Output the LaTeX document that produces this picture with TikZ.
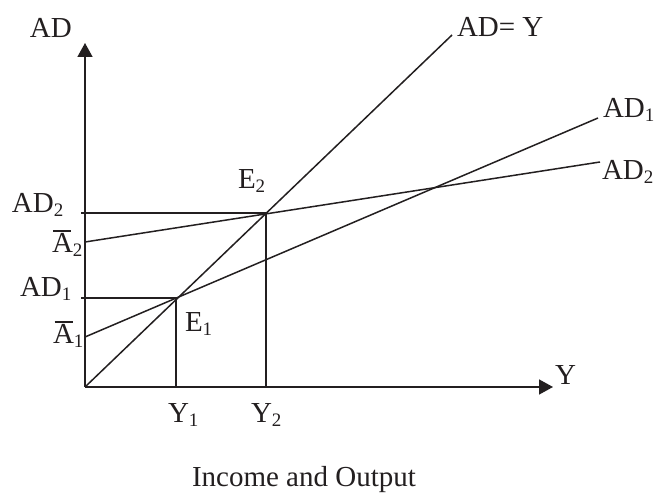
\documentclass[tikz,border=0pt]{standalone}
\usepackage{fontspec}
\setmainfont{Liberation Serif}
\usetikzlibrary{arrows.meta}
\definecolor{ink}{HTML}{231F20}
\newcommand{\sbs}[1]{\raisebox{-3.5pt}{\fontsize{19}{19}\selectfont #1}}
\newcommand{\Abar}{\leavevmode\rlap{\hspace{1.5pt}\rule[21pt]{18pt}{1.6pt}}A}
\begin{document}
\begin{tikzpicture}[x=1pt,y=-1pt,
  lbl/.style={anchor=base west,inner sep=0pt,outer sep=0pt,text=ink,font=\fontsize{29}{34}\selectfont},
  ln/.style={draw=ink,line width=1.5pt},
  axis/.style={ln,-{Triangle[length=14pt,width=15pt]}}]
\clip (0,0) rectangle (659,502);
\useasboundingbox (0,0) rectangle (659,502);
\fill[white] (0,0) rectangle (659,502);
% coordinates
\coordinate (O) at (85,387);
\coordinate (yend) at (85,43);
\coordinate (xend) at (553,387);
\coordinate (E1) at (176,298);
\coordinate (E2) at (266,213);
\coordinate (Y1) at (176,387);
\coordinate (Y2) at (266,387);
\coordinate (t1) at (81,298);
\coordinate (t2) at (81,213);
\coordinate (A1) at (85,337);
\coordinate (A2) at (85,242);
\coordinate (L45) at (452,35);
\coordinate (L1) at (598,118);
\coordinate (L2) at (600,162);
% axes
\draw[axis] (O) -- (yend);
\draw[axis] (O) -- (xend);
% lines
\draw[ln] (O) -- (L45);
\draw[ln] (A1) -- (L1);
\draw[ln] (A2) -- (L2);
\draw[ln] (t1) -- (E1) -- (Y1);
\draw[ln] (t2) -- (E2) -- (Y2);
% labels
\node[lbl] (lAD) at (30,38) {AD};
\node[lbl] (lY) at (555,385) {Y};
\node[lbl] (l45) at (457,37) {AD= Y};
\node[lbl] (lAD1r) at (603,118) {AD\sbs{1}};
\node[lbl] (lAD2r) at (602,180) {AD\sbs{2}};
\node[lbl] (lAD2) at (12,213) {AD\sbs{2}};
\node[lbl] (lA2) at (52,253) {\Abar\sbs{2}};
\node[lbl] (lAD1) at (20,297) {AD\sbs{1}};
\node[lbl] (lA1) at (53,344) {\Abar\sbs{1}};
\node[lbl] (lE1) at (185,332) {E\sbs{1}};
\node[lbl] (lE2) at (238,189) {E\sbs{2}};
\node[lbl] (lY1) at (168,423) {Y\sbs{1}};
\node[lbl] (lY2) at (251,423) {Y\sbs{2}};
\node[lbl] (cap) at (192,487) {Income and Output};
\end{tikzpicture}
\end{document}
